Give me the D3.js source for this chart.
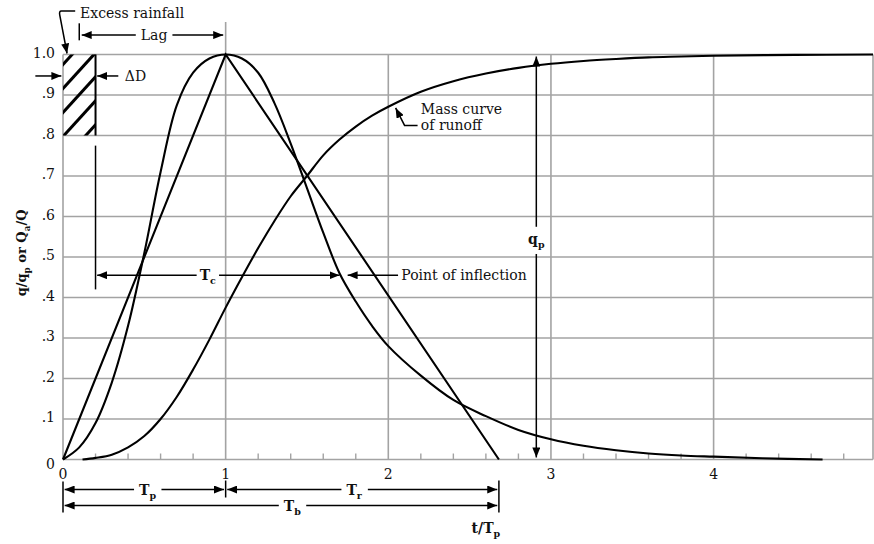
<!DOCTYPE html>
<html>
<head>
<meta charset="utf-8">
<script src="https://cdn.jsdelivr.net/npm/d3@7"></script>
<style>
  body { margin: 0; background: #fff; }
  svg text { font-family: "DejaVu Serif", "Liberation Serif", serif; fill: #111; }
</style>
</head>
<body>
<svg id="chart" width="874" height="544"></svg>
<script>
// Dimensionless unit hydrograph: t/Tp against q/qp
const hydroT = [0, 0.1, 0.2, 0.3, 0.4, 0.5, 0.6, 0.7, 0.8, 0.9, 1.0, 1.1, 1.2, 1.3, 1.4, 1.5, 1.6, 1.7, 1.8, 1.9, 2.0, 2.2, 2.4, 2.6, 2.8, 3.0, 3.2, 3.4, 3.6, 3.8, 4.0, 4.3, 4.67];
const hydroQ = [0, 0.03, 0.09, 0.19, 0.33, 0.51, 0.71, 0.875, 0.955, 0.99, 1.0, 0.99, 0.955, 0.88, 0.78, 0.67, 0.56, 0.46, 0.39, 0.33, 0.28, 0.207, 0.147, 0.107, 0.073, 0.050, 0.034, 0.023, 0.015, 0.010, 0.007, 0.003, 0.0];

// Mass curve of runoff: t/Tp against Qa/Q
const massT = [0.12, 0.2, 0.3, 0.4, 0.5, 0.6, 0.7, 0.8, 0.9, 1.0, 1.1, 1.2, 1.3, 1.4, 1.5, 1.6, 1.7, 1.8, 1.9, 2.0, 2.2, 2.4, 2.6, 2.8, 3.0, 3.2, 3.4, 3.6, 3.8, 4.0, 4.5, 4.98];
const massQ = [0, 0.004, 0.012, 0.030, 0.058, 0.100, 0.155, 0.222, 0.296, 0.375, 0.450, 0.522, 0.589, 0.650, 0.700, 0.751, 0.790, 0.822, 0.849, 0.871, 0.908, 0.934, 0.953, 0.967, 0.977, 0.984, 0.989, 0.993, 0.995, 0.997, 0.999, 1.0];

// Triangular approximation: peak at Tp, base Tb
const triT = [0, 1, 2.68];
const triQ = [0, 1, 0];

// Axis ticks
const xTicks = [0, 1, 2, 3, 4];
const xTickLabels = ["0", "1", "2", "3", "4"];
const xMinorTicks = [0.2, 0.4, 0.6, 0.8, 1.2, 1.4, 1.6, 1.8, 2.2, 2.4, 2.6, 2.8, 3.2, 3.4, 3.6, 3.8, 4.2, 4.4, 4.6, 4.8];
const yTicks = [0, 0.1, 0.2, 0.3, 0.4, 0.5, 0.6, 0.7, 0.8, 0.9, 1.0];
const yTickLabels = ["0", ".1", ".2", ".3", ".4", ".5", ".6", ".7", ".8", ".9", "1.0"];

// Key times (t/Tp)
const tDelta = 0.2;      // excess rainfall duration ΔD
const tInflect = 1.72;   // point of inflection
const qInflect = 0.455;
const tQp = 2.91;        // position of the qp dimension line
const tMax = 4.98;

const svg = d3.select("#chart");
const x = d3.scaleLinear().domain([0, tMax]).range([63, 873]);
const y = d3.scaleLinear().domain([0, 1]).range([459.5, 54.5]);

const GRID = "#a3a3a3";
const FS = 14;

// Arrowhead marker
const defs = svg.append("defs");
defs.append("marker")
  .attr("id", "ah").attr("viewBox", "0 0 10 8")
  .attr("refX", 10).attr("refY", 4)
  .attr("markerWidth", 10).attr("markerHeight", 8)
  .attr("markerUnits", "userSpaceOnUse")
  .attr("orient", "auto-start-reverse")
  .append("path").attr("d", "M0,0L10,4L0,8Z").attr("fill", "#000");

// Grid: horizontal lines
const grid = svg.append("g");
grid.selectAll("line.h").data(yTicks).join("line")
  .attr("x1", x(0)).attr("x2", x(tMax))
  .attr("y1", d => y(d)).attr("y2", d => y(d))
  .attr("stroke", GRID).attr("stroke-width", 1.6);
// vertical lines at whole t/Tp plus frame edges
grid.selectAll("line.v").data([0, 1, 2, 3, 4, tMax]).join("line")
  .attr("x1", d => x(d)).attr("x2", d => x(d))
  .attr("y1", y(0)).attr("y2", d => d === 1 ? y(1.08) : y(1))
  .attr("stroke", GRID).attr("stroke-width", 1.6);
// minor ticks on t axis
grid.selectAll("line.m").data(xMinorTicks).join("line")
  .attr("x1", d => x(d)).attr("x2", d => x(d))
  .attr("y1", y(0)).attr("y2", y(0) - 6)
  .attr("stroke", GRID).attr("stroke-width", 1.4);

// Tick labels
svg.append("g").selectAll("text").data(yTicks).join("text")
  .attr("x", x(0) - 8).attr("y", d => y(d) + (d === 0 ? 9 : 3))
  .attr("text-anchor", "end").attr("font-size", FS)
  .text((d, i) => yTickLabels[i]);
svg.append("g").selectAll("text").data(xTicks).join("text")
  .attr("x", d => x(d)).attr("y", y(0) + 19)
  .attr("text-anchor", "middle").attr("font-size", FS)
  .text((d, i) => xTickLabels[i]);

// Curves
const hydro = hydroT.map((t, i) => [t, hydroQ[i]]);
const mass = massT.map((t, i) => [t, massQ[i]]);
const tri = triT.map((t, i) => [t, triQ[i]]);
const smooth = d3.line().x(d => x(d[0])).y(d => y(d[1])).curve(d3.curveCatmullRom.alpha(0.5));
const straight = d3.line().x(d => x(d[0])).y(d => y(d[1]));
const curves = svg.append("g").attr("fill", "none").attr("stroke", "#000").attr("stroke-width", 2.1);
curves.append("path").attr("d", smooth(hydro));
curves.append("path").attr("d", smooth(mass));
curves.append("path").attr("d", straight(tri)).attr("stroke-linejoin", "miter");

// Excess rainfall block with hatching
const bx0 = x(0), bx1 = x(tDelta), by0 = y(1), by1 = y(0.8);
defs.append("clipPath").attr("id", "blockClip")
  .append("rect").attr("x", bx0).attr("y", by0).attr("width", bx1 - bx0).attr("height", by1 - by0);
const hatch = svg.append("g").attr("clip-path", "url(#blockClip)");
d3.range(5).forEach(k => {
  const c = by0 + 10 + k * 24;
  hatch.append("line")
    .attr("x1", bx0 - 2).attr("y1", c + 2.2)
    .attr("x2", bx1 + 2).attr("y2", c - 1.1 * (bx1 - bx0 + 2))
    .attr("stroke", "#000").attr("stroke-width", 3);
});
svg.append("line").attr("x1", bx1).attr("x2", bx1).attr("y1", by0).attr("y2", by1)
  .attr("stroke", "#000").attr("stroke-width", 2);

const ann = svg.append("g").attr("stroke", "#000").attr("stroke-width", 1.5).attr("fill", "none");

// Text helper: parts are plain runs {t} or subscripts {sub}; optional white backing
function label(g, px, py, anchor, size, weight, parts, pad) {
  const t = g.append("text").attr("x", px).attr("y", py)
    .attr("text-anchor", anchor).attr("font-size", size).attr("font-weight", weight)
    .attr("stroke", "none");
  const shift = size * 0.3;
  let lowered = false;
  parts.forEach(p => {
    if (p.sub) {
      t.append("tspan").attr("font-size", size * 0.68).attr("dy", lowered ? 0 : shift).text(p.sub);
      lowered = true;
    } else {
      t.append("tspan").attr("dy", lowered ? -shift : 0).text(p.t);
      lowered = false;
    }
  });
  if (pad) {
    const b = t.node().getBBox();
    g.insert("rect", () => t.node())
      .attr("x", b.x - pad[0]).attr("y", b.y - pad[1])
      .attr("width", b.width + 2 * pad[0]).attr("height", b.height + 2 * pad[1])
      .attr("fill", "#fff").attr("stroke", "none");
  }
  return t;
}

const txt = svg.append("g");

// Excess rainfall leader
label(txt, x(0.105), 18, "start", FS, "normal", [{t: "Excess rainfall"}]);
ann.append("path")
  .attr("d", `M${x(0.075)},11 L${x(-0.01)},11 Q${x(-0.025)},11 ${x(-0.02)},15 L${x(0.025)},${y(1) - 1}`)
  .attr("marker-end", "url(#ah)");

// ΔD arrows
ann.append("line").attr("x1", x(-0.17)).attr("x2", x(-0.01)).attr("y1", y(0.947)).attr("y2", y(0.947)).attr("marker-end", "url(#ah)");
ann.append("line").attr("x1", x(0.34)).attr("x2", x(0.21)).attr("y1", y(0.947)).attr("y2", y(0.947)).attr("marker-end", "url(#ah)");
label(txt, x(0.38), y(0.947) + 5, "start", FS, "normal", [{t: "\u0394D"}]);

// Lag dimension
ann.append("line").attr("x1", x(0.1)).attr("x2", x(0.1)).attr("y1", y(1.077)).attr("y2", y(1.035));
ann.append("line").attr("x1", x(0.115)).attr("x2", x(0.985)).attr("y1", y(1.048)).attr("y2", y(1.048))
  .attr("marker-start", "url(#ah)").attr("marker-end", "url(#ah)");
label(txt, x(0.56), y(1.048) + 5, "middle", FS, "normal", [{t: "Lag"}], [5, 2]);

// Tc dimension
ann.append("line").attr("x1", x(tDelta)).attr("x2", x(tDelta)).attr("y1", y(0.775)).attr("y2", y(0.42));
ann.append("line").attr("x1", x(tDelta + 0.01)).attr("x2", x(tInflect - 0.02)).attr("y1", y(qInflect)).attr("y2", y(qInflect))
  .attr("marker-start", "url(#ah)").attr("marker-end", "url(#ah)");
label(txt, x(0.89), y(qInflect) + 5, "middle", FS, "bold", [{t: "T"}, {sub: "c"}], [3, 1]);

// Point of inflection
ann.append("line").attr("x1", x(2.06)).attr("x2", x(tInflect + 0.03)).attr("y1", y(qInflect)).attr("y2", y(qInflect))
  .attr("marker-end", "url(#ah)");
label(txt, x(2.08), y(qInflect) + 5, "start", FS, "normal", [{t: "Point of inflection"}]);

// Mass curve label
label(txt, x(2.2), y(0.866) + 5, "start", FS, "normal", [{t: "Mass curve"}]);
label(txt, x(2.2), y(0.825) + 5, "start", FS, "normal", [{t: "of runoff"}]);
ann.append("path")
  .attr("d", `M${x(2.18)},${y(0.825)} L${x(2.1)},${y(0.825)} L${x(2.045)},${y(0.868)}`)
  .attr("marker-end", "url(#ah)");

// qp dimension
ann.append("line").attr("x1", x(tQp)).attr("x2", x(tQp)).attr("y1", y(0.005)).attr("y2", y(0.995))
  .attr("marker-start", "url(#ah)").attr("marker-end", "url(#ah)");
label(txt, x(tQp), y(0.545) + 5, "middle", FS, "bold", [{t: "q"}, {sub: "p"}], [2, 4]);

// Dimensions below the t axis
const yTp = y(0) + 30, yTb = y(0) + 46;
ann.append("line").attr("x1", x(0)).attr("x2", x(0)).attr("y1", y(0) + 22).attr("y2", y(0) + 53);
ann.append("line").attr("x1", x(1)).attr("x2", x(1)).attr("y1", y(0) + 21).attr("y2", y(0) + 38);
ann.append("line").attr("x1", x(triT[2])).attr("x2", x(triT[2])).attr("y1", y(0) + 21).attr("y2", y(0) + 53);
ann.append("line").attr("x1", x(0.01)).attr("x2", x(0.99)).attr("y1", yTp).attr("y2", yTp)
  .attr("marker-start", "url(#ah)").attr("marker-end", "url(#ah)");
ann.append("line").attr("x1", x(1.01)).attr("x2", x(triT[2] - 0.01)).attr("y1", yTp).attr("y2", yTp)
  .attr("marker-start", "url(#ah)").attr("marker-end", "url(#ah)");
ann.append("line").attr("x1", x(0.01)).attr("x2", x(triT[2] - 0.01)).attr("y1", yTb).attr("y2", yTb)
  .attr("marker-start", "url(#ah)").attr("marker-end", "url(#ah)");
label(txt, x(0.52), yTp + 5, "middle", FS, "bold", [{t: "T"}, {sub: "p"}], [5, 1]);
label(txt, x(1.79), yTp + 5, "middle", FS, "bold", [{t: "T"}, {sub: "r"}], [5, 1]);
label(txt, x(1.41), yTb + 5, "middle", FS, "bold", [{t: "T"}, {sub: "b"}], [5, 1]);

// Axis titles
label(txt, x(2.6), y(0) + 73, "middle", FS, "bold", [{t: "t/T"}, {sub: "p"}]);
const yt = label(txt, 0, 0, "middle", 13, "bold", [{t: "q/q"}, {sub: "p"}, {t: " or Q"}, {sub: "a"}, {t: "/Q"}]);
yt.attr("transform", `translate(26, ${y(0.51)}) rotate(-90)`);
</script>
</body>
</html>
